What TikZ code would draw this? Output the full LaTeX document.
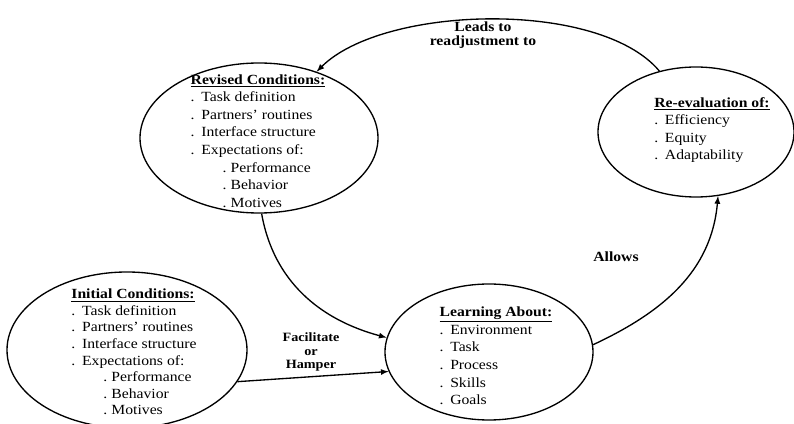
\documentclass[tikz,border=0pt]{standalone}
\usepackage{fontspec}
\setmainfont[FakeStretch=1.12]{Liberation Serif}
\usetikzlibrary{arrows}
\usetikzlibrary{shapes}

\newcommand{\hd}[1]{\textbf{\underline{#1}}}
\newcommand{\itm}[1]{\makebox[8pt][l]{.}#1}
\newcommand{\subitm}[1]{\hspace*{24pt}\makebox[6pt][l]{.}#1}

\begin{document}
\begin{tikzpicture}[x=0.75pt, y=-0.75pt,
    oval/.style={draw, ellipse, line width=1pt, inner sep=0pt},
    lst/.style={align=left, inner sep=0pt, font=\fontsize{10.5}{13.2}\selectfont},
    lbl/.style={align=center, inner sep=0pt, font=\bfseries\fontsize{10.5}{11}\selectfont},
    arr/.style={-latex, line width=1pt}]
    \useasboundingbox (0,0) rectangle (794,424);

    % the four ellipses
    \node[oval, minimum width=180pt, minimum height=117pt] (init) at (127,350) {};
    \node[oval, minimum width=178.5pt, minimum height=112.5pt] (rev) at (259,138) {};
    \node[oval, minimum width=156pt, minimum height=102pt] (learn) at (489,352) {};
    \node[oval, minimum width=147pt, minimum height=97.5pt] (reeval) at (696,132) {};

    % their texts
    \node[lst, font=\fontsize{10.5}{12.4}\selectfont] (initT) at (134,352) {\hd{Initial Conditions:}\\
        \itm{Task definition}\\
        \itm{Partners' routines}\\
        \itm{Interface structure}\\
        \itm{Expectations of:}\\
        \subitm{Performance}\\
        \subitm{Behavior}\\
        \subitm{Motives}};
    \node[lst] (revT) at (258,141) {\hd{Revised Conditions:}\\
        \itm{Task definition}\\
        \itm{Partners' routines}\\
        \itm{Interface structure}\\
        \itm{Expectations of:}\\
        \subitm{Performance}\\
        \subitm{Behavior}\\
        \subitm{Motives}};
    \node[lst] (learnT) at (496,356) {\hd{Learning About:}\\
        \itm{Environment}\\
        \itm{Task}\\
        \itm{Process}\\
        \itm{Skills}\\
        \itm{Goals}};
    \node[lst] (reevalT) at (712,130) {\hd{Re-evaluation of:}\\
        \itm{Efficiency}\\
        \itm{Equity}\\
        \itm{Adaptability}};

    % connector labels
    \node[lbl] (leads) at (483,35) {Leads to\\readjustment to};
    \node[lbl, font=\bfseries\fontsize{9.5}{10}\selectfont] (facil) at (311,352) {Facilitate\\or\\Hamper};
    \node[lbl] (allows) at (616,257) {Allows};

    \draw[arr] (init.-16) -- (learn.191);
    \draw[arr] (rev.-88) to[out=-80, in=165] (learn.172);
    \draw[arr] (learn.4) to[out=25, in=-95] (reeval.-71);
    \draw[arr] (reeval.121) to[out=130, in=45, looseness=0.7] (rev.49);
\end{tikzpicture}
\end{document}
